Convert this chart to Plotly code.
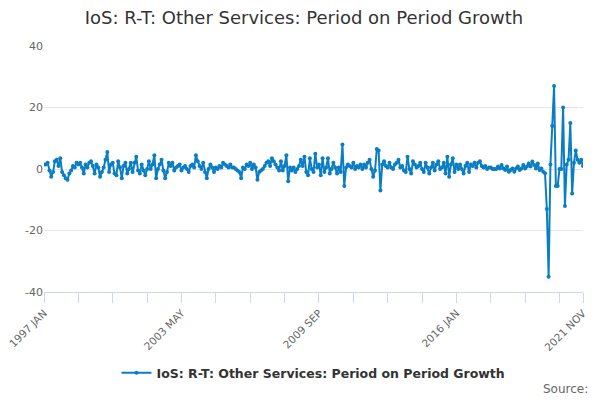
import plotly.graph_objs as go

month_names = ['JAN', 'FEB', 'MAR', 'APR', 'MAY', 'JUN', 'JUL', 'AUG', 'SEP', 'OCT', 'NOV', 'DEC']
months = ['%d %s' % (y, m) for y in range(1997, 2022) for m in month_names][:299]

tick_labels = ['1997 JAN', '2003 MAY', '2009 SEP', '2016 JAN', '2021 NOV']
y_ticks = [-40, -20, 0, 20, 40]

# monthly growth, %
growth = [
    1.5, 1.5, 2.0, -0.5, -2.5, -1.0, 2.5, 3.0, 1.0, 3.5,
    -1.0, -2.0, -3.0, -3.5, -1.5, -0.5, 1.0, 0.5, 2.0, 1.5,
    2.0, 0.5, -1.5, 1.5, 0.5, 2.0, 2.5, 1.0, -1.5, 1.5,
    0.5, -2.5, -1.0, 0.5, 3.0, 5.5, -1.0, 1.5, 2.0, -1.5,
    -2.0, 2.5, 0.5, -3.0, 1.0, 2.0, -1.5, 0.0, 2.0, -1.0,
    2.0, 4.0, -0.5, -1.5, 1.5, -0.5, -2.0, 0.0, 2.5, 0.0,
    1.5, 4.5, -3.0, 0.0, 1.5, 3.0, -0.5, -3.0, -1.0, 2.0,
    1.0, 2.0, -0.5, 0.5, 1.0, 1.5, -0.5, 0.5, 1.0, 0.0,
    -1.0, 1.0, 1.5, 0.5, 4.5, 2.5, 1.0, 0.0, 2.0, -1.0,
    -3.0, 0.0, 1.5, 0.5, -1.0, 0.5, 0.0, 1.0, 0.5, 2.0,
    1.5, 1.0, 0.5, 1.5, 0.5, 0.5, 0.0, -0.5, -1.0, -3.0,
    0.5, 0.0, 1.5, 1.0, 2.0, 0.0, 1.5, 0.5, -3.5, -1.0,
    -0.5, 0.0, 1.0, 2.0, 2.5, 1.0, 3.5, 2.5, 1.5, 0.5,
    -0.5, 2.5, -0.5, 1.0, 4.5, -4.0, 0.5, -0.5, 0.5, -1.0,
    0.0, 1.0, 3.0, 1.0, 4.0, -1.0, -2.0, 3.5, 0.0, -1.0,
    5.0, 0.5, 1.5, -2.0, 3.5, -1.0, 0.5, 3.5, -1.5, 0.0,
    2.0, 0.5, -1.5, 0.5, -1.0, 8.0, -5.5, 0.5, 1.5, 1.0,
    0.5, 2.0, 0.0, 1.0, 0.5, 1.5, 0.0, 1.5, 0.5, 2.0,
    3.0, 0.0, -2.5, -0.5, 6.5, 6.0, -7.0, 1.5, 2.5, 1.0,
    0.5, 2.0, 0.5, 0.0, 1.5, 2.0, 3.0, 0.5, 1.0, -0.5,
    -1.0, 4.0, 0.0, -1.5, 2.5, 1.5, 0.5, 1.0, 2.0, 0.0,
    -1.0, 2.0, 0.5, -1.5, 0.5, 2.0, -0.5, 1.5, 2.5, 0.0,
    0.5, 2.0, -1.5, 4.0, -2.5, 1.5, 3.5, -1.0, 1.5, 0.0,
    1.5, 0.0, -1.5, 1.0, 2.0, -1.0, 1.5, 1.0, 2.0, 0.5,
    2.0, 2.5, 1.0, 0.5, 1.0, 0.0, 0.5, 0.5, 0.0, 0.0,
    0.0, 0.8, 0.2, 1.3, 0.2, -0.3, 0.8, -0.9, -0.3, 0.2,
    -0.9, 0.2, 0.8, -0.3, 0.2, 1.3, 0.2, 0.8, 1.8, 0.8,
    2.4, 1.3, 0.2, 1.8, -0.3, 0.2, -0.9, -1.4, -13.0, -35.0,
    1.5, 14.0, 27.0, -5.5, -5.5, 0.0, 0.0, 20.0, -12.0, 1.5,
    3.0, 15.0, -8.0, 2.0, 6.0, 3.0, 2.0, 3.0, 1.0,
]

series_name = 'IoS: R-T: Other Services: Period on Period Growth'

# tick marks every 19 months, labels every 4th one, plus the last month
tick_vals = months[::19] + [months[-1]]
tick_text = [m if m in tick_labels else '' for m in tick_vals]

line = go.Scatter(
    x=months,
    y=growth,
    name=series_name,
    mode='lines+markers',
    line=dict(color='#0a7ec4', width=2),
    marker=dict(color='#0a7ec4', size=4),
)

# the page body keeps its 8px margin, so the figure is 8px smaller each way
layout = go.Layout(
    width=592,
    height=392,
    margin=dict(l=36, r=17, t=38, b=108),
    paper_bgcolor='white',
    plot_bgcolor='white',
    font=dict(family='DejaVu Sans', color='#666666', size=11),
    title=dict(
        text=series_name,
        x=0.5,
        xanchor='center',
        y=0.975,
        yanchor='middle',
        font=dict(size=18, color='#333333'),
    ),
    xaxis=dict(
        type='category',
        range=[0, len(months) - 1],
        automargin=False,
        tickmode='array',
        tickvals=tick_vals,
        ticktext=tick_text,
        tickangle=-45,
        tickfont=dict(size=10.5),
        ticks='outside',
        ticklen=10,
        tickcolor='#ccd6eb',
        showline=True,
        linecolor='#ccd6eb',
        showgrid=False,
        zeroline=False,
    ),
    yaxis=dict(
        range=[-40, 40],
        automargin=False,
        tickmode='array',
        tickvals=y_ticks,
        # plain hyphen, like the reference
        ticktext=[str(v) for v in y_ticks],
        gridcolor='#e6e6e6',
        zeroline=False,
        showline=False,
        ticks='',
    ),
    showlegend=True,
    legend=dict(
        orientation='h',
        x=0.5,
        xanchor='center',
        y=-0.33,
        yanchor='middle',
        font=dict(size=12.5, color='#333333', family='DejaVu Sans', weight='bold'),
    ),
    annotations=[
        dict(
            text='Source:',
            xref='paper',
            yref='paper',
            x=1.013,
            y=-0.395,
            xanchor='right',
            yanchor='middle',
            showarrow=False,
            font=dict(size=12, color='#666666'),
        )
    ],
)

fig = go.Figure(data=[line], layout=layout)
fig.write_html('out.html')
